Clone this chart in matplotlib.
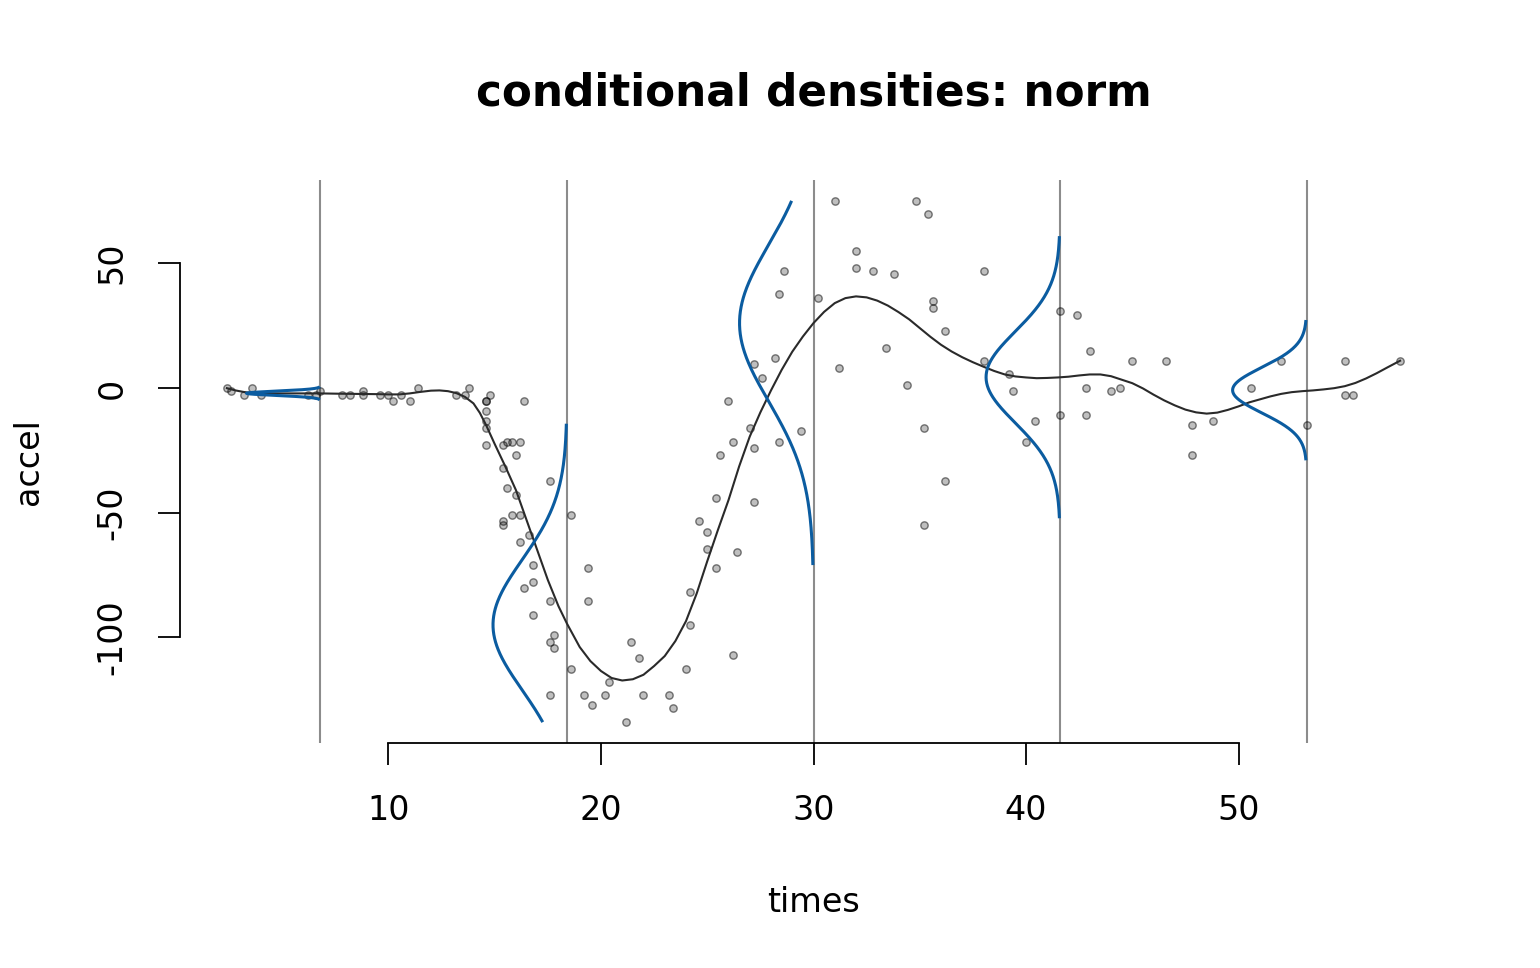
import numpy as np
import matplotlib
matplotlib.use("Agg")
import matplotlib.pyplot as plt

# mcycle data
times = [2.4, 2.6, 3.2, 3.6, 4.0, 6.2, 6.6, 6.8, 7.8, 8.2, 8.8, 8.8, 9.6, 10.0, 10.2, 10.6, 11.0, 11.4,
         13.2, 13.6, 13.8, 14.6, 14.6, 14.6, 14.6, 14.6, 14.6, 14.8, 15.4, 15.4, 15.4, 15.4, 15.6, 15.6,
         15.8, 15.8, 16.0, 16.0, 16.2, 16.2, 16.2, 16.4, 16.4, 16.6, 16.8, 16.8, 16.8, 17.6, 17.6, 17.6,
         17.6, 17.8, 17.8, 18.6, 18.6, 19.2, 19.4, 19.4, 19.6, 20.2, 20.4, 21.2, 21.4, 21.8, 22.0, 23.2,
         23.4, 24.0, 24.2, 24.2, 24.6, 25.0, 25.0, 25.4, 25.4, 25.6, 26.0, 26.2, 26.2, 26.4, 27.0, 27.2,
         27.2, 27.2, 27.6, 28.2, 28.4, 28.4, 28.6, 29.4, 30.2, 31.0, 31.2, 32.0, 32.0, 32.8, 33.4, 33.8,
         34.4, 34.8, 35.2, 35.2, 35.4, 35.6, 35.6, 36.2, 36.2, 38.0, 38.0, 39.2, 39.4, 40.0, 40.4, 41.6,
         41.6, 42.4, 42.8, 42.8, 43.0, 44.0, 44.4, 45.0, 46.6, 47.8, 47.8, 48.8, 50.6, 52.0, 53.2, 55.0,
         55.0, 55.4, 57.6]
accel = [0.0, -1.3, -2.7, 0.0, -2.7, -2.7, -2.7, -1.3, -2.7, -2.7, -1.3, -2.7, -2.7, -2.7, -5.4, -2.7,
         -5.4, 0.0, -2.7, -2.7, 0.0, -13.3, -5.4, -5.4, -9.3, -16.0, -22.8, -2.7, -22.8, -32.1, -53.5,
         -54.9, -40.2, -21.5, -21.5, -50.8, -42.9, -26.8, -21.5, -50.8, -61.7, -5.4, -80.4, -59.0, -71.0,
         -91.1, -77.7, -37.5, -85.6, -123.1, -101.9, -99.1, -104.4, -112.5, -50.8, -123.1, -85.6, -72.3,
         -127.2, -123.1, -117.9, -134.0, -101.9, -108.4, -123.1, -123.1, -128.5, -112.5, -95.1, -81.8,
         -53.5, -64.4, -57.6, -72.3, -44.3, -26.8, -5.4, -107.1, -21.5, -65.6, -16.0, -45.6, -24.2, 9.5,
         4.0, 12.0, -21.5, 37.5, 46.9, -17.4, 36.2, 75.0, 8.1, 54.9, 48.2, 46.9, 16.0, 45.6, 1.3, 75.0,
         -16.0, -54.9, 69.6, 34.8, 32.1, -37.5, 22.8, 46.9, 10.7, 5.4, -1.3, -21.5, -13.3, 30.8, -10.7,
         29.4, 0.0, -10.7, 14.7, -1.3, 0.0, 10.7, 10.7, -26.8, -14.7, -13.3, 0.0, 10.7, -14.7, -2.7, 10.7,
         -2.7, 10.7]

# fitted mean curve
fit_t = [2.4, 2.8, 3.3, 4.0, 5.0, 6.0, 6.8, 7.5, 8.5, 9.5, 10.0, 10.5, 11.0, 11.5, 12.0, 12.4, 12.8,
         13.2, 13.6, 14.0, 14.3, 14.6, 15.0, 15.5, 16.0, 16.5, 17.0, 17.5, 18.0, 18.4, 19.0, 19.5,
         20.0, 20.5, 21.0, 21.5, 22.0, 22.5, 23.0, 23.5, 24.0, 24.5, 25.0, 25.5, 26.0, 26.5, 27.0,
         27.5, 28.0, 28.5, 29.0, 29.5, 30.0, 30.5, 31.0, 31.5, 32.0, 32.5, 33.0, 33.5, 34.0, 34.5,
         35.0, 35.5, 36.0, 36.5, 37.0, 37.5, 38.0, 38.5, 39.0, 39.5, 40.0, 40.5, 41.0, 41.5, 42.0,
         42.5, 43.0, 43.5, 44.0, 44.5, 45.0, 45.5, 46.0, 46.5, 47.0, 47.5, 48.0, 48.5, 49.0, 49.5,
         50.0, 50.5, 51.0, 51.5, 52.0, 52.5, 53.0, 53.5, 54.0, 54.5, 55.0, 55.5, 56.0, 56.5, 57.0, 57.6]
fit_mu = [-0.1, -1.0, -1.8, -2.1, -2.2, -2.2, -2.2, -2.3, -2.4, -2.5, -2.6, -2.6, -2.2, -1.6, -1.1,
          -1.0, -1.3, -2.1, -3.6, -6.2, -10.0, -15.0, -22.5, -31.5, -41.0, -53.0, -65.0, -77.0, -87.5,
          -94.5, -103.9, -109.5, -113.5, -116.3, -117.3, -116.8, -115.0, -111.5, -107.5, -101.5, -93.5,
          -82.5, -69.5, -57.0, -45.0, -31.5, -19.5, -9.8, -1.0, 7.2, 14.5, 20.6, 26.0, 30.5, 34.0,
          36.0, 36.7, 36.3, 35.0, 33.0, 30.4, 27.5, 24.0, 20.5, 17.3, 14.6, 12.3, 10.3, 8.5, 6.8, 5.4,
          4.6, 4.2, 3.9, 4.0, 4.2, 4.5, 5.0, 5.4, 5.4, 4.7, 3.3, 1.9, -0.2, -2.7, -5.0, -7.0, -8.7,
          -9.8, -10.3, -9.9, -8.8, -7.4, -5.8, -4.6, -3.4, -2.4, -1.7, -1.3, -1.0, -0.6, -0.1, 0.7,
          2.0, 3.8, 5.9, 8.2, 10.9]

# conditional normal densities at selected times
dens_at = [6.8, 18.4, 30.0, 41.6, 53.2]
dens_mu = [-2.15, -95.0, 26.0, 4.3, -0.9]
dens_sigma = [0.86, 26.1, 31.4, 18.3, 9.1]

xticks = [10, 20, 30, 40, 50]
yticks = [-100, -50, 0, 50]

fig = plt.figure(figsize=(15.4, 9.68), dpi=100)
ax = fig.add_axes([180 / 1540, 1 - 743 / 968, (1447 - 180) / 1540, (743 - 180) / 968])

tmin, tmax = min(times), max(times)
amin, amax = min(accel), max(accel)
ax.set_xlim(tmin - 0.04 * (tmax - tmin), tmax + 0.04 * (tmax - tmin))
ax.set_ylim(amin - 0.04 * (amax - amin), amax + 0.04 * (amax - amin))

for x0 in dens_at:
    ax.axvline(x0, color="#8c8c8c", lw=1.5, zorder=1)

ax.scatter(times, accel, s=28, facecolor=(0, 0, 0, 0.25), edgecolor=(0, 0, 0, 0.5),
           linewidth=1.0, zorder=2)

ax.plot(fit_t, fit_mu, color="#2a2a2a", lw=1.5, zorder=3)

width = 3.48
for x0, m, s in zip(dens_at, dens_mu, dens_sigma):
    lo = max(m - 3.09 * s, amin)
    hi = min(m + 3.09 * s, amax)
    yy = np.linspace(lo, hi, 400)
    d = np.exp(-0.5 * ((yy - m) / s) ** 2)
    ax.plot(x0 - width * d, yy, color="#0b5ca0", lw=2.2, zorder=4, solid_capstyle="butt")

for sp in ["top", "right"]:
    ax.spines[sp].set_visible(False)
ax.spines["left"].set_bounds(yticks[0], yticks[-1])
ax.spines["bottom"].set_bounds(xticks[0], xticks[-1])
for sp in ["left", "bottom"]:
    ax.spines[sp].set_linewidth(1.3)
ax.set_xticks(xticks)
ax.set_yticks(yticks)
ax.set_yticklabels([str(v) for v in yticks], rotation=90, va="center")
ax.tick_params(axis="both", length=16, width=1.3, labelsize=24, pad=21)

fig.text(813.5 / 1540, 1 - 912 / 968, "times", ha="center", va="baseline", fontsize=24)
fig.text(38 / 1540, 1 - 461.5 / 968, "accel", ha="center", va="baseline", rotation=90,
         rotation_mode="anchor", fontsize=24)
fig.text(813.5 / 1540, 1 - 106 / 968, "conditional densities: norm", ha="center", va="baseline",
         fontsize=31.5, fontweight="bold")

fig.savefig("out.png", dpi=100)
